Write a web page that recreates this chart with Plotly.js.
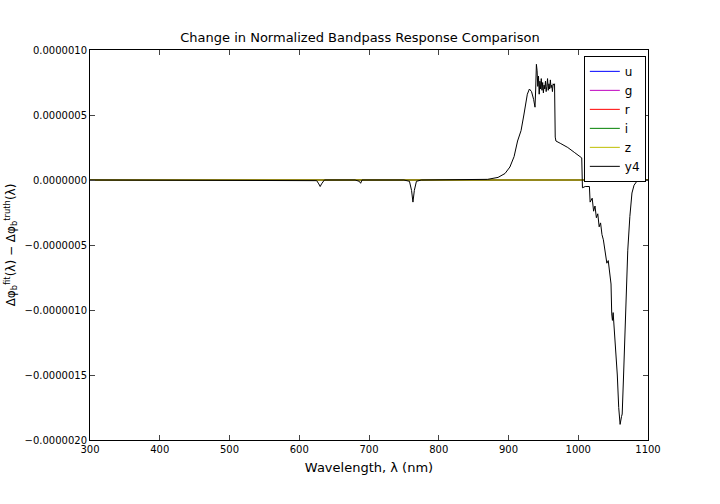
<!DOCTYPE html>
<html><head><script src="https://cdn.plot.ly/plotly-3.0.1.min.js"></script></head>
<body style="margin:0"><div id="c" style="width:720px;height:504px"></div>
<script>
const wavelength = [300,500,620,625,628,630,632,636,680,686,688,690,750,758,761,763,765,768,775,850,870,885,895,902,908,913,918,922,927,930,933,936,938,939,940,941,942,943,944,945,946,947,948,949,950,951,952,953,954,955,956,957,958,959,960,961,962,963,964,965,966,967,968,975,985,995,1005,1006,1010,1016,1017,1020,1022,1024,1026,1028,1030,1032,1034,1036,1038,1040,1041,1043,1045,1047,1048,1049,1050,1053,1056,1058,1060,1062,1063,1065,1067,1069,1071,1074,1077,1080,1084,1088,1092,1100];
const y4 = [0,0,0,-0.05e-7,-0.3e-7,-0.5e-7,-0.3e-7,0,0,-0.1e-7,-0.25e-7,0,0,-0.1e-7,-0.8e-7,-1.7e-7,-0.8e-7,-0.1e-7,0,0,0.05e-7,0.2e-7,0.5e-7,1.0e-7,1.8e-7,3.0e-7,3.8e-7,5.0e-7,6.6e-7,7.0e-7,6.8e-7,6.2e-7,5.6e-7,7.0e-7,8.9e-7,8.4e-7,7.2e-7,8.0e-7,6.6e-7,7.6e-7,7.0e-7,7.8e-7,6.9e-7,7.5e-7,6.7e-7,7.3e-7,7.0e-7,7.6e-7,6.8e-7,7.2e-7,7.8e-7,6.9e-7,7.4e-7,7.0e-7,7.7e-7,7.1e-7,7.3e-7,6.8e-7,7.4e-7,7.3e-7,7.4e-7,3.3e-7,3.0e-7,2.8e-7,2.5e-7,2.1e-7,1.7e-7,-0.6e-7,-0.5e-7,-0.5e-7,-1.7e-7,-1.4e-7,-2.4e-7,-2.0e-7,-2.9e-7,-2.6e-7,-3.6e-7,-3.3e-7,-4.2e-7,-4.6e-7,-5.4e-7,-5.9e-7,-6.4e-7,-6.2e-7,-7.0e-7,-8.0e-7,-10.3e-7,-10.8e-7,-10.2e-7,-12.5e-7,-15.0e-7,-17.5e-7,-18.8e-7,-18.2e-7,-18.0e-7,-15.0e-7,-11.8e-7,-8.3e-7,-5.4e-7,-2.8e-7,-1.0e-7,-0.4e-7,-0.1e-7,-0.02e-7,0,0];
const bands = ['u','g','r','i','z','y4'];
const colors = ['#0000ff','#bf00bf','#ff0000','#008000','#bfbf00','#000000'];
const zeroX = [300,1100];
const traces = bands.map((b,i)=>({
  x: b==='y4'?wavelength:zeroX, y: b==='y4'?y4:[0,0], name:b, mode:'lines',
  line:{color:colors[i],width:1}
}));
Plotly.newPlot('c',traces,{
  width:720,height:504,margin:{l:90,r:72,t:50,b:64},
  paper_bgcolor:'#fff',plot_bgcolor:'#fff',
  font:{family:'DejaVu Sans',size:10,color:'#000'},
  title:{text:'Change in Normalized Bandpass Response Comparison',font:{size:13},x:0.5,y:0.935},
  xaxis:{range:[300,1100],dtick:100,showgrid:false,zeroline:false,showline:true,mirror:'ticks',ticks:'inside',ticklen:5,linecolor:'#000',
    title:{text:'Wavelength, λ (nm)',font:{size:13},standoff:8}},
  yaxis:{range:[-2e-6,1e-6],dtick:5e-7,tickformat:'.7f',showgrid:false,zeroline:false,showline:true,mirror:'ticks',ticks:'inside',ticklen:5,linecolor:'#000',
    title:{text:'Δφ<sub>b</sub><sup>fit</sup>(λ) − Δφ<sub>b</sub><sup>truth</sup>(λ)',font:{size:12},standoff:6}},
  legend:{x:0.885,xanchor:'left',y:0.985,yanchor:'top',bordercolor:'#000',borderwidth:1,bgcolor:'#fff',font:{size:12},tracegroupgap:0,itemwidth:30},
  showlegend:true
},{displayModeBar:false});
</script></body></html>
